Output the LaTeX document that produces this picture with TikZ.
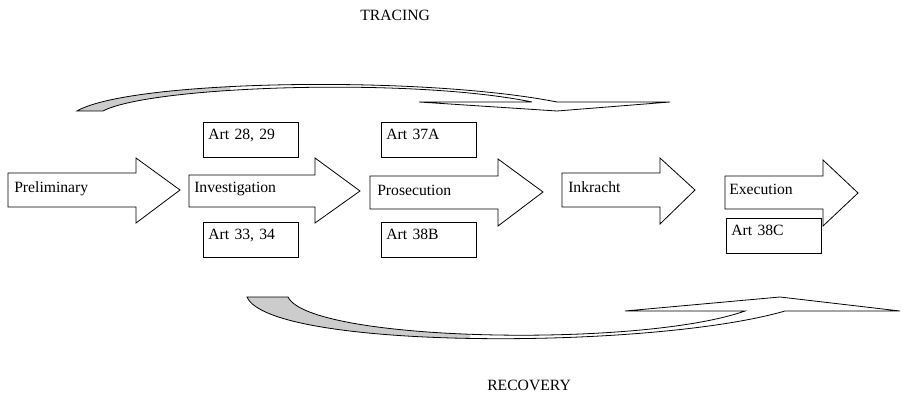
\documentclass[tikz,border=0pt]{standalone}
\usepackage{fontspec}
\setmainfont{Liberation Serif}
\usetikzlibrary{calc}

\begin{document}
\begin{tikzpicture}[x=0.75pt, y=-0.75pt,
	stage/.style={draw, fill=white, line width=0.6pt, line join=miter},
	artbox/.style={draw, fill=white, line width=0.6pt, anchor=north west,
		text width=63.75pt, align=left, inner xsep=3.75pt, inner ysep=3.75pt,
		text height=9pt, text depth=9.75pt, font=\fontsize{11.75}{14}\selectfont},
	lbl/.style={anchor=base west, inner sep=0pt, font=\fontsize{11.75}{14}\selectfont},
	back/.style={fill=gray!40},
	band/.style={draw, line width=0.6pt, line join=miter},
	]
		\useasboundingbox (0,0) rectangle (902,395);

		% tracing (top)
		\begin{scope}
			\clip (0,0) rectangle (230,395);
			\fill[back] (77,111) .. controls (130,80) and (420,75) .. (557,102)
				-- (532,102) .. controls (410,77) and (150,86) .. (103,111) -- cycle;
		\end{scope}
		\draw[band] (77,111) .. controls (130,80) and (420,75) .. (557,102)
			-- (670,102) -- (557,111) -- (419,102) -- (532,102)
			.. controls (410,77) and (150,86) .. (103,111) -- cycle;

		% recovery (bottom)
		\begin{scope}
			\clip (0,0) rectangle (470,395);
			\fill[back] (247,297) .. controls (270,350) and (650,350) .. (785,311)
				-- (745,311) .. controls (640,348) and (310,342) .. (288,297) -- cycle;
		\end{scope}
		\draw[band] (247,297) .. controls (270,350) and (650,350) .. (785,311)
			-- (900,311) -- (780,297) -- (625,311) -- (745,311)
			.. controls (640,348) and (310,342) .. (288,297) -- cycle;

		% stages
		\draw[stage] (8,173) -- (136,173) -- (136,158) -- (180,190) -- (136,223) -- (136,207) -- (8,207) -- cycle;
		\draw[stage] (189,175) -- (315,175) -- (315,158) -- (360,191) -- (315,223) -- (315,207) -- (189,207) -- cycle;
		\draw[stage] (370,176) -- (498,176) -- (498,159) -- (543,192) -- (498,226) -- (498,209) -- (370,209) -- cycle;
		\draw[stage] (562,173) -- (660,173) -- (660,158) -- (695,190) -- (660,224) -- (660,207) -- (562,207) -- cycle;
		\draw[stage] (725,176) -- (823,176) -- (823,160) -- (858,193) -- (823,226) -- (823,209) -- (725,209) -- cycle;

		\node[lbl] (prelim) at (14,193) {Preliminary};
		\node[lbl] (invest) at (194,193) {Investigation};
		\node[lbl] (prosec) at (377,196) {Prosecution};
		\node[lbl] (inkracht) at (568,193) {Inkracht};
		\node[lbl] (exec) at (729,195) {Execution};

		% articles
		\node[artbox] (art2829) at (203,122) {Art 28, 29};
		\node[artbox] (art3334) at (203,222) {Art 33, 34};
		\node[artbox] (art37a) at (381,122) {Art 37A};
		\node[artbox] (art38b) at (381,222) {Art 38B};
		\node[artbox] (art38c) at (726,218) {Art 38C};

		\node[lbl] (tracing) at (360,21) {TRACING};
		\node[lbl] (recovery) at (487,390) {RECOVERY};
	\end{tikzpicture}
\end{document}
